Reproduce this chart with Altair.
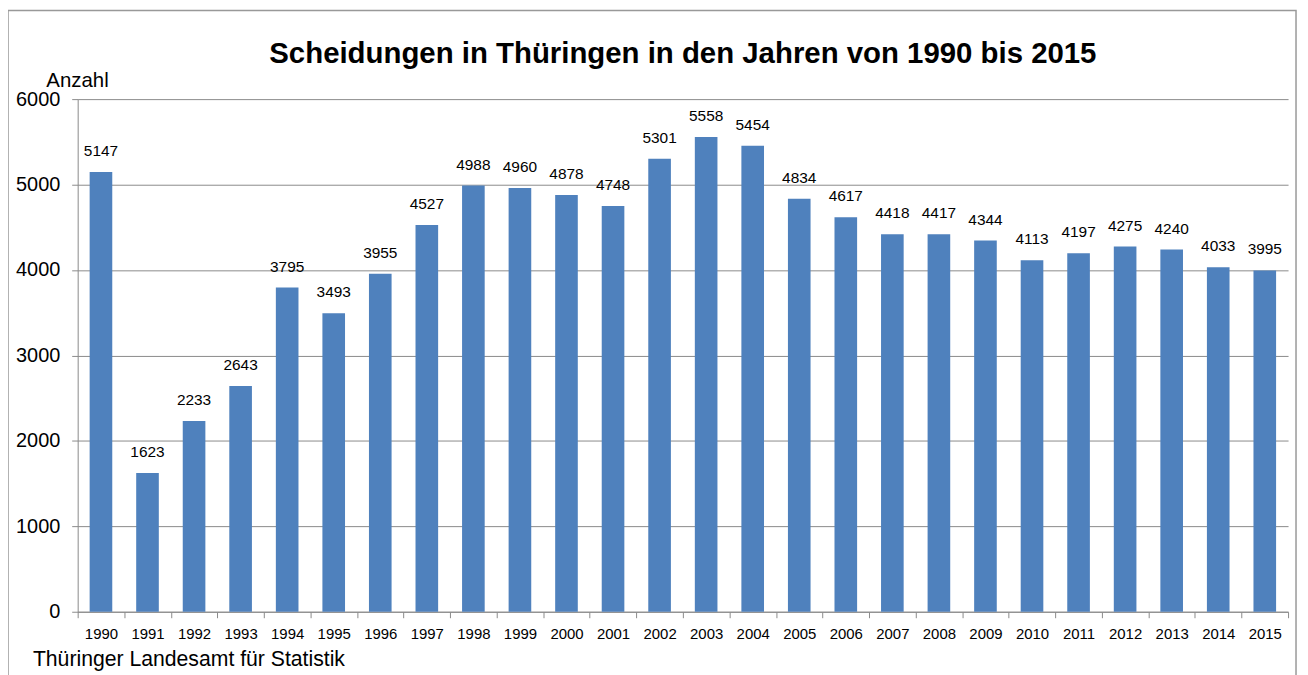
import altair as alt
import pandas as pd

years = [str(y) for y in range(1990, 2016)]
values = [5147, 1623, 2233, 2643, 3795, 3493, 3955, 4527, 4988, 4960, 4878, 4748, 5301,
          5558, 5454, 4834, 4617, 4418, 4417, 4344, 4113, 4197, 4275, 4240, 4033, 3995]
y_ticks = [0, 1000, 2000, 3000, 4000, 5000, 6000]
title_text = "Scheidungen in Thüringen in den Jahren von 1990 bis 2015"
y_label = "Anzahl"
source_text = "Thüringer Landesamt für Statistik"

df = pd.DataFrame({"Jahr": years, "Anzahl": values})
FONT = "Liberation Sans"
GRAY = "#8a8a8a"
W, H = 1216, 515

x_enc = alt.X(
    "Jahr:N", sort=years,
    scale=alt.Scale(paddingInner=0, paddingOuter=0),
    axis=alt.Axis(title=None, labelAngle=0, tickBand="extent", labelFontSize=15,
                  labelFont=FONT, labelColor="black", domainColor=GRAY, tickColor=GRAY,
                  tickSize=6, labelPadding=9, grid=False),
)
y_enc = alt.Y(
    "Anzahl:Q",
    scale=alt.Scale(domain=[0, 6000], nice=False),
    axis=alt.Axis(values=y_ticks, format="d", grid=True, gridColor=GRAY, domainColor=GRAY,
                  tickColor=GRAY, tickSize=6, labelFontSize=20, labelFont=FONT,
                  labelColor="black", labelPadding=12, title=y_label, titleAngle=0,
                  titleX=-32, titleY=-13, titleAlign="left", titleBaseline="alphabetic",
                  titleFontSize=20.5, titleFont=FONT, titleFontWeight="normal",
                  titleColor="black"),
)

one = alt.Data(values=[{}])

frame = alt.Chart(one).mark_rect(fill="white", fillOpacity=0, stroke="#999999", strokeWidth=1.5).encode(
    x=alt.value(-70), x2=alt.value(1224), y=alt.value(-89), y2=alt.value(720)
)

bars = alt.Chart(df).mark_bar(color="#4F81BD", width=alt.RelativeBandSize(0.486)).encode(
    x=x_enc, y=y_enc
)

labels = alt.Chart(df).mark_text(
    baseline="alphabetic", dy=-16, fontSize=15.5, font=FONT, color="black"
).encode(
    x=alt.X("Jahr:N", sort=years),
    y=alt.Y("Anzahl:Q"),
    text=alt.Text("Anzahl:Q", format="d"),
)

title = alt.Chart(one).mark_text(
    text=title_text, fontSize=29.5, fontWeight="bold", font=FONT, color="black",
    align="center", baseline="alphabetic"
).encode(x=alt.value(W / 2), y=alt.value(-36))

source = alt.Chart(one).mark_text(
    text=source_text, fontSize=21.3, font=FONT, color="black",
    align="left", baseline="alphabetic"
).encode(x=alt.value(-45), y=alt.value(570))

chart = alt.layer(frame, bars, labels, title, source).properties(
    width=W, height=H, autosize="none",
    padding={"left": 70, "top": 90, "right": 12, "bottom": 62},
).configure_view(strokeWidth=0)

chart.save("out.html", embed_options={"renderer": "svg", "actions": False})
